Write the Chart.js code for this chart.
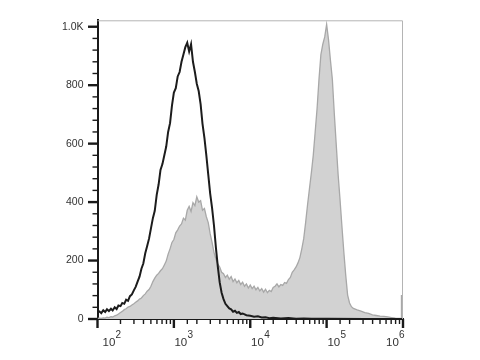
<!DOCTYPE html>
<html>
<head>
<meta charset="utf-8">
<script src="https://cdn.jsdelivr.net/npm/chart.js@4/dist/chart.umd.min.js"></script>
<style>
  html, body { margin: 0; padding: 0; background: #ffffff; }
  #wrap { width: 480px; height: 360px; position: relative; }
</style>
</head>
<body>
<div id="wrap"><canvas id="c" width="480" height="360"></canvas></div>
<script>
// ---- data (fluorescence intensity vs. count) ----
const controlIntensity = [100, 106, 112, 119, 126, 133, 141, 150, 158, 168, 178, 188, 200, 211, 224, 237, 251, 266, 282, 299, 316, 335, 355, 376, 398, 422, 447, 473, 501, 531, 562, 596, 631, 668, 708, 750, 794, 841, 891, 944, 1000, 1059, 1122, 1189, 1259, 1334, 1413, 1496, 1585, 1679, 1778, 1884, 1995, 2113, 2239, 2371, 2512, 2661, 2818, 2985, 3162, 3350, 3548, 3758, 3981, 4217, 4467, 4732, 5012, 5309, 5623, 5957, 6310, 6683, 7079, 7499, 7943, 8913, 10000, 11220, 12589, 14125, 15849, 17783, 19953, 25119, 31623, 39811, 50119, 63096, 100000, 316228, 1000000];
const controlCount     = [22, 26, 20, 30, 24, 33, 27, 35, 29, 40, 34, 46, 44, 55, 52, 66, 62, 78, 84, 98, 110, 128, 145, 172, 190, 225, 250, 275, 310, 345, 370, 425, 460, 510, 530, 560, 590, 640, 670, 730, 775, 790, 830, 845, 880, 905, 930, 945, 915, 940, 880, 845, 805, 780, 735, 668, 620, 560, 495, 430, 380, 320, 245, 180, 125, 90, 68, 52, 44, 36, 33, 25, 28, 21, 24, 17, 19, 13, 11, 8, 9, 5, 6, 3, 4, 2, 3, 1, 2, 1, 1, 0, 0];

const stainedIntensity = [100, 106, 112, 119, 126, 133, 141, 150, 158, 168, 178, 188, 200, 211, 224, 237, 251, 266, 282, 299, 316, 335, 355, 376, 398, 422, 447, 473, 501, 531, 562, 596, 631, 668, 708, 750, 794, 841, 891, 944, 1000, 1059, 1122, 1189, 1259, 1334, 1413, 1496, 1585, 1679, 1778, 1884, 1995, 2113, 2239, 2371, 2512, 2661, 2818, 2985, 3162, 3350, 3548, 3758, 3981, 4217, 4467, 4732, 5012, 5309, 5623, 5957, 6310, 6683, 7079, 7499, 7943, 8414, 8913, 9441, 10000, 10593, 11220, 11885, 12589, 13335, 14125, 14962, 15849, 16788, 17783, 18836, 19953, 21135, 22387, 23714, 25119, 26607, 28184, 29854, 31623, 33497, 35481, 37584, 39811, 42170, 44668, 47315, 50119, 53088, 56234, 59566, 63096, 66834, 70795, 74989, 79433, 84140, 89125, 94406, 100000, 105925, 112202, 118850, 125893, 133352, 141254, 149624, 158489, 167880, 177828, 188365, 199526, 211349, 223872, 251189, 281838, 316228, 354813, 398107, 446684, 501187, 562341, 630957, 707946, 794328, 891251, 944061, 954993, 1000000];
const stainedCount     = [2, 3, 2, 4, 3, 6, 5, 8, 7, 11, 13, 17, 22, 26, 32, 35, 41, 43, 48, 52, 57, 62, 68, 72, 80, 86, 95, 101, 112, 128, 140, 150, 156, 165, 172, 185, 198, 222, 240, 262, 272, 295, 305, 318, 325, 345, 338, 372, 385, 368, 398, 388, 418, 400, 405, 372, 378, 350, 330, 292, 262, 228, 205, 188, 178, 160, 155, 142, 150, 136, 145, 128, 137, 124, 132, 118, 126, 112, 120, 106, 116, 104, 112, 100, 108, 96, 104, 92, 102, 90, 98, 94, 108, 112, 120, 110, 118, 115, 125, 122, 135, 142, 160, 168, 178, 192, 210, 240, 275, 330, 390, 445, 500, 560, 640, 720, 820, 905, 940, 965, 1008, 955, 885, 820, 705, 600, 496, 410, 318, 230, 150, 82, 55, 42, 36, 31, 27, 22, 19, 14, 12, 10, 9, 7, 5, 3, 2, 2, 80, 80];

const xDecades = [100, 1000, 10000, 100000, 1000000];
const xDecadeExponents = ['2', '3', '4', '5', '6'];
const yTickValues = [0, 40, 80, 120, 160, 200, 240, 280, 320, 360, 400, 440, 480, 520, 560, 600, 640, 680, 720, 760, 800, 840, 880, 920, 960, 1000];
const yLabelledTicks = [0, 200, 400, 600, 800, 1000];
const yTickLabels = ['0', '200', '400', '600', '800', '1.0K'];

// ---- build datasets ----
const toPoints = (xs, ys) => xs.map((x, i) => ({ x: x, y: ys[i] }));

const FONT = '"Liberation Sans", Arial, sans-serif';
const LABEL_COLOR = '#333333';
const AXIS_COLOR = '#1a1a1a';

// custom tick marks, x labels with superscripts and light frame
const flowAxes = {
  id: 'flowAxes',
  afterDraw(chart) {
    const { ctx, chartArea: a, scales: { x, y } } = chart;
    ctx.save();
    // light frame on top and right
    ctx.strokeStyle = '#b4b4b4';
    ctx.lineWidth = 1;
    ctx.beginPath();
    ctx.moveTo(a.left, a.top + 0.5);
    ctx.lineTo(a.right - 0.5, a.top + 0.5);
    ctx.lineTo(a.right - 0.5, a.bottom);
    ctx.stroke();

    ctx.strokeStyle = AXIS_COLOR;
    // x ticks
    x.ticks.forEach((t) => {
      const px = x.getPixelForValue(t.value);
      const l = Math.log10(t.value);
      const major = Math.abs(Math.round(l) - l) < 1e-6;
      ctx.lineWidth = major ? 2.4 : 1.4;
      ctx.beginPath();
      ctx.moveTo(px, a.bottom);
      ctx.lineTo(px, a.bottom + (major ? 9 : 5));
      ctx.stroke();
    });
    // y ticks
    yTickValues.forEach((v) => {
      const py = y.getPixelForValue(v);
      const major = yLabelledTicks.includes(v);
      ctx.lineWidth = major ? 2.4 : 1.4;
      ctx.beginPath();
      ctx.moveTo(a.left, py);
      ctx.lineTo(a.left - (major ? 9.5 : 5), py);
      ctx.stroke();
    });

    // x labels: 10 with superscript exponent
    const offsets = [5, 0.5, 0.8, 0.8, -17];
    ctx.fillStyle = LABEL_COLOR;
    ctx.textBaseline = 'alphabetic';
    ctx.textAlign = 'left';
    xDecades.forEach((v, i) => {
      const px = x.getPixelForValue(v) + offsets[i];
      ctx.font = '11.5px ' + FONT;
      ctx.fillText('10', px, a.bottom + 27);
      const w = ctx.measureText('10').width;
      ctx.font = '10px ' + FONT;
      ctx.fillText(xDecadeExponents[i], px + w + 0.3, a.bottom + 18.5);
    });
    ctx.restore();
  }
};

new Chart(document.getElementById('c'), {
  type: 'line',
  data: {
    datasets: [
      {
        label: 'Control',
        data: toPoints(controlIntensity, controlCount),
        borderColor: '#1c1c1c',
        borderWidth: 2,
        fill: false,
        pointRadius: 0,
        tension: 0,
        order: 0
      },
      {
        label: 'Stained',
        data: toPoints(stainedIntensity, stainedCount),
        borderColor: '#a8a8a8',
        backgroundColor: '#d2d2d2',
        borderWidth: 1.3,
        fill: 'origin',
        pointRadius: 0,
        tension: 0,
        order: 1
      }
    ]
  },
  options: {
    responsive: false,
    animation: false,
    devicePixelRatio: 1,
    layout: { padding: { top: 12, right: 77, left: 0, bottom: 0 } },
    plugins: { legend: { display: false }, tooltip: { enabled: false } },
    scales: {
      x: {
        type: 'logarithmic',
        min: 100,
        max: 1000000,
        grid: { display: false },
        border: { display: true, color: AXIS_COLOR, width: 2 },
        ticks: { display: false, autoSkip: false },
        afterFit(s) { s.height = 41; }
      },
      y: {
        min: 0,
        max: 1022,
        grid: { display: false, drawTicks: false },
        border: { display: true, color: AXIS_COLOR, width: 2 },
        afterBuildTicks(s) {
          s.ticks = yLabelledTicks.map(v => ({ value: v }));
        },
        ticks: {
          autoSkip: false,
          padding: 14,
          color: LABEL_COLOR,
          font: { family: FONT, size: 10.5 },
          callback(v, i) {
            return yTickLabels[i];
          }
        },
        afterFit(s) { s.width = 97.5; }
      }
    }
  },
  plugins: [flowAxes]
});
</script>
</body>
</html>
